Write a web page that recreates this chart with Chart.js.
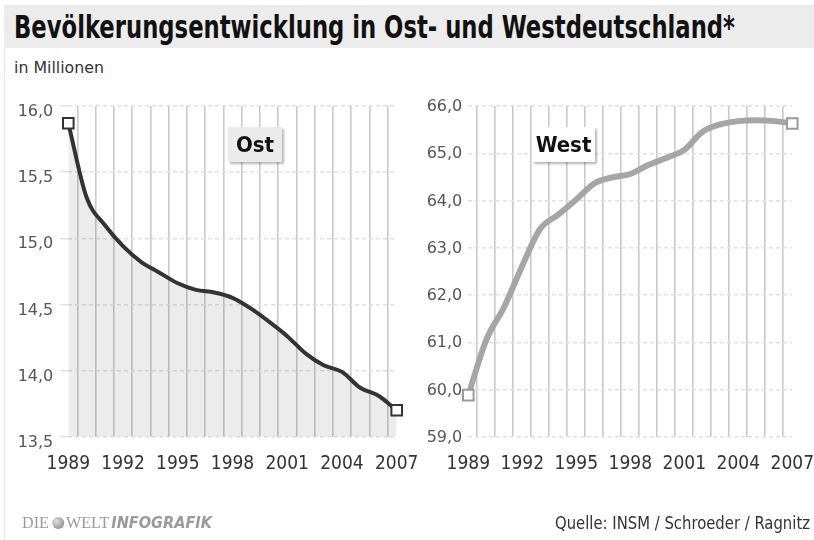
<!DOCTYPE html>
<html><head><meta charset="utf-8">
<script src="https://cdn.jsdelivr.net/npm/chart.js@4.4.1/dist/chart.umd.min.js"></script>
<style>
html,body{margin:0;padding:0;background:#fff;overflow:hidden;}
#wrap{position:relative;width:814px;height:540px;overflow:hidden;background:#fff;}
canvas{position:absolute;left:0;top:0;}
.band{position:absolute;left:4px;top:5px;width:810px;height:43px;background:#ececec;}
.vline{position:absolute;left:4px;top:48px;width:1px;height:492px;background:#e4e4e4;}
.fit{position:absolute;white-space:nowrap;transform-origin:0 0;font-family:"Liberation Sans Narrow","DejaVu Sans Condensed","Liberation Sans",sans-serif;}
#title{left:14px;top:8px;font-weight:bold;font-size:32px;color:#111;}
#sub{left:14px;top:59px;font-size:15px;color:#333;}
#src{left:555px;top:513px;font-size:17px;color:#333;}
.box{position:absolute;top:127px;height:35px;box-shadow:2px 2px 2px rgba(0,0,0,0.28);text-align:center;line-height:35px;font-weight:bold;font-size:22px;color:#111;font-family:"Liberation Sans Narrow","DejaVu Sans Condensed","Liberation Sans",sans-serif;}
#ostBox{left:228px;width:54px;background:#ebebeb;}
#westBox{left:532px;width:63px;background:#fff;}
#logo{position:absolute;left:22px;top:513px;color:#9a9a9a;white-space:nowrap;transform-origin:0 0;}
#logo .s{font-family:"Liberation Serif","DejaVu Serif",serif;font-size:16px;}
#logo .g{display:inline-block;width:12px;height:12px;border-radius:50%;background:radial-gradient(circle at 35% 35%,#e0e0e0,#7a7a7a);margin:0 2px 0 3px;vertical-align:-1px;}
#logo .i{font-family:"Liberation Sans Narrow","DejaVu Sans Condensed","Liberation Sans",sans-serif;font-weight:bold;font-style:italic;font-size:16px;margin-left:2px;}
</style></head>
<body><div id="wrap">
<div class="band"></div><div class="vline"></div>
<div id="title" class="fit" data-w="721">Bevölkerungsentwicklung in Ost- und Westdeutschland*</div>
<div id="sub" class="fit" data-w="90">in Millionen</div>
<canvas id="cOst" width="830" height="540"></canvas>
<canvas id="cWest" width="830" height="540"></canvas>
<div id="ostBox" class="box">Ost</div>
<div id="westBox" class="box">West</div>
<div id="logo" data-w="190"><span class="s">DIE</span><span class="g"></span><span class="s">WELT</span><span class="i">INFOGRAFIK</span></div>
<div id="src" class="fit" data-w="255">Quelle: INSM / Schroeder / Ragnitz</div>
</div>
<script>
// ---- data ----
const years = ['1989','1990','1991','1992','1993','1994','1995','1996','1997','1998','1999','2000','2001','2002','2003','2004','2005','2006','2007'];
const labelYears = ['1989','1992','1995','1998','2001','2004','2007'];
const ostValues = [15.87,15.31,15.10,14.94,14.82,14.74,14.66,14.61,14.59,14.55,14.47,14.37,14.26,14.13,14.04,13.99,13.87,13.81,13.70];
const westValues = [59.88,61.05,61.75,62.62,63.40,63.70,64.02,64.36,64.49,64.56,64.75,64.90,65.07,65.45,65.61,65.68,65.70,65.68,65.63];
const ostTicks = [13.5,14.0,14.5,15.0,15.5,16.0];
const westTicks = [59,60,61,62,63,64,65,66];

// fit texts to measured widths
document.querySelectorAll('.fit, #logo').forEach(el=>{
  const w = el.getBoundingClientRect().width;
  const target = +el.dataset.w;
  if (w>0) el.style.transform = 'scaleX(' + (target/w) + ')';
});

const NARROW = '"Liberation Sans Narrow","DejaVu Sans Condensed","Liberation Sans",sans-serif';
const fmt = v => Number(v).toFixed(1).replace('.', ',');

function makeChart(id, values, ticksArr, opt) {
  const n = values.length;
  return new Chart(document.getElementById(id), {
    type: 'line',
    data: {
      labels: years,
      datasets: [{
        data: values,
        borderColor: opt.line,
        borderWidth: opt.lw,
        fill: opt.fill ? 'start' : false,
        backgroundColor: opt.fill || 'transparent',
        cubicInterpolationMode: 'monotone',
        pointStyle: 'rect',
        pointRadius: c => (c.dataIndex === 0 || c.dataIndex === n - 1) ? 7.5 : 0,
        pointBackgroundColor: '#fff',
        pointBorderColor: opt.pt,
        pointBorderWidth: 2,
        clip: false
      }]
    },
    options: {
      responsive: false,
      animation: false,
      events: [],
      layout: { padding: opt.pad },
      plugins: { legend: { display: false }, tooltip: { enabled: false } },
      scales: {
        x: {
          type: 'category',
          offset: false,
          grid: { offset: true, color: '#c9c9c9', lineWidth: 1.6, drawTicks: false },
          border: { display: false },
          ticks: {
            autoSkip: false, maxRotation: 0, padding: 16,
            color: '#333',
            font: { family: NARROW, size: 19 },
            callback: (v, i) => labelYears.includes(years[i]) ? years[i] : ''
          },
          afterFit: s => { s.height = 50; }
        },
        y: {
          min: ticksArr[0], max: ticksArr[ticksArr.length - 1],
          afterBuildTicks: s => { s.ticks = ticksArr.map(v => ({ value: v })); },
          grid: { color: '#e0e0e0', lineWidth: 1.4, drawTicks: opt.tick > 0, tickLength: opt.tick || 1, tickColor: '#e0e0e0' },
          border: { display: false, dash: [4, 3] },
          ticks: {
            padding: opt.tpad, labelOffset: opt.loff,
            color: '#555',
            font: { family: '"DejaVu Sans",Verdana,sans-serif', size: 16 },
            callback: v => fmt(v)
          },
          afterFit: s => { s.width = opt.yw; }
        }
      }
    }
  });
}

makeChart('cOst', ostValues, ostTicks, {
  line: '#333', lw: 4, pt: '#333', fill: 'rgba(0,0,0,0.075)',
  pad: { left: 0, right: 830 - 396.7, top: 106, bottom: 540 - 436.7 - 50 },
  yw: 68.3, tick: 8, tpad: 7, loff: 6
});
makeChart('cWest', westValues, westTicks, {
  line: '#a6a6a6', lw: 6, pt: '#999', fill: null,
  pad: { left: 410, right: 830 - 798, top: 106, bottom: 540 - 436.7 - 50 },
  yw: 58.3, tick: 0, tpad: 6, loff: 1
});
</script>
</body></html>
